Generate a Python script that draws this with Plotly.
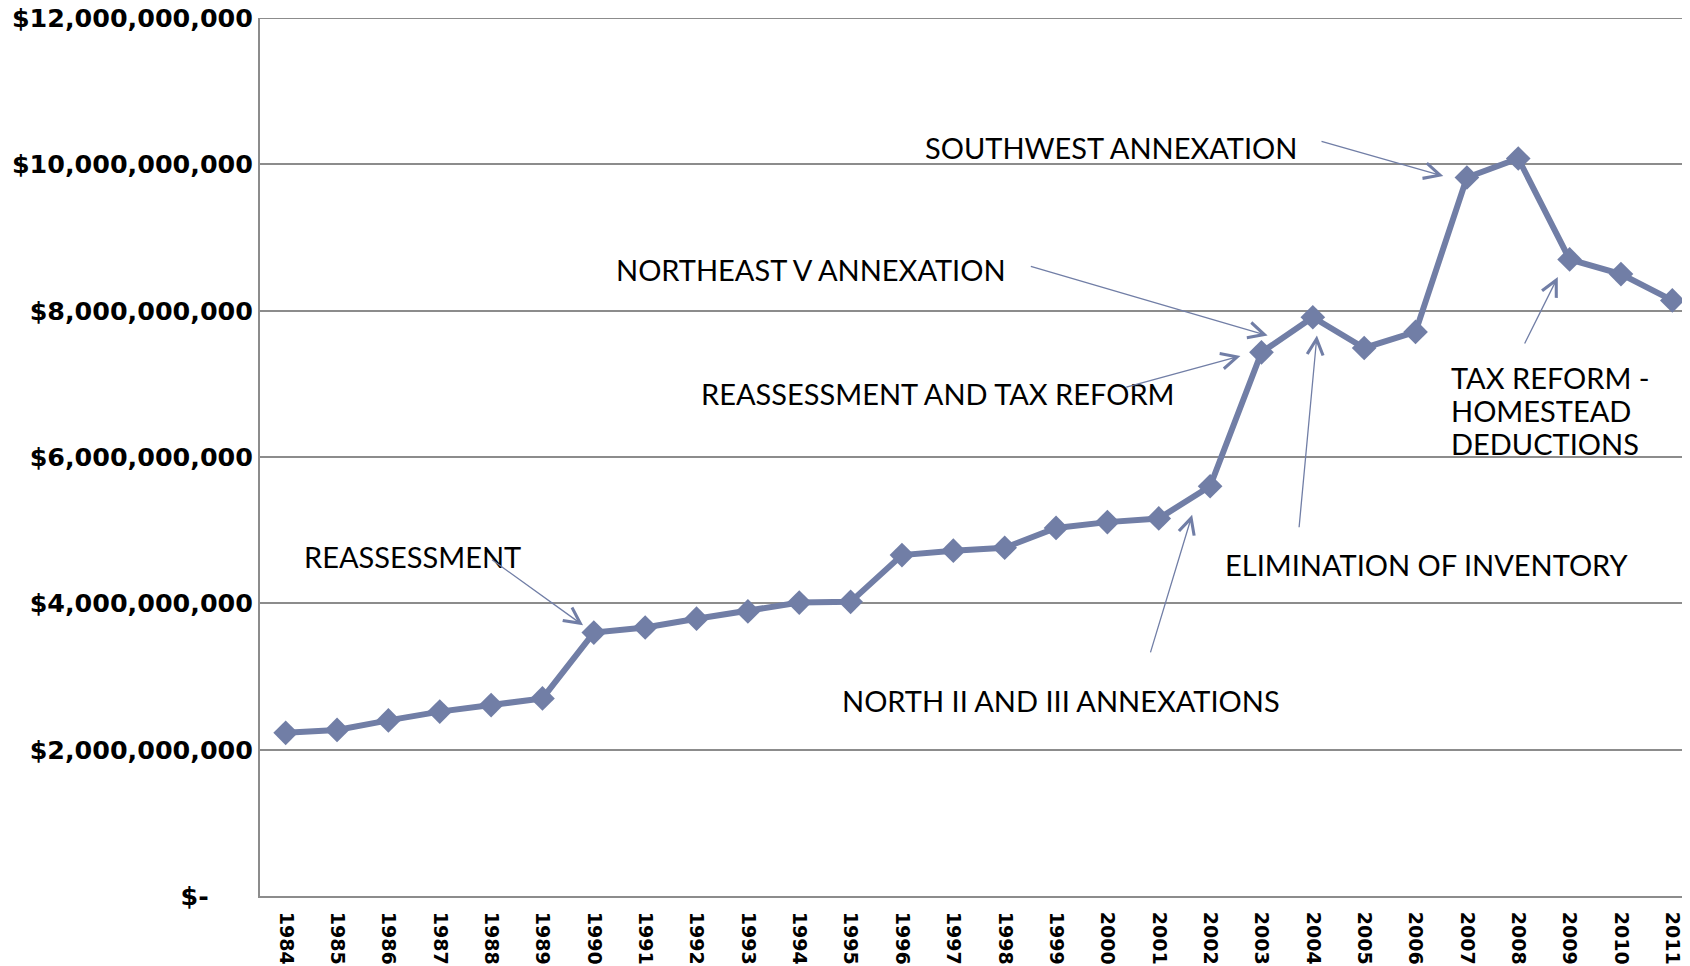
import plotly.graph_objects as go

# assessed value by year
years = list(range(1984, 2012))
values = [2.23e9, 2.27e9, 2.40e9, 2.52e9, 2.61e9, 2.70e9, 3.60e9, 3.67e9,
          3.79e9, 3.89e9, 4.01e9, 4.02e9, 4.66e9, 4.72e9, 4.76e9, 5.03e9,
          5.11e9, 5.16e9, 5.60e9, 7.43e9, 7.91e9, 7.49e9, 7.71e9, 9.82e9,
          10.08e9, 8.70e9, 8.50e9, 8.14e9]

y_max = 12e9
y_ticks = [0, 2e9, 4e9, 6e9, 8e9, 10e9, 12e9]
y_tick_text = ["$-" + "\u00a0" * 5, "$2,000,000,000", "$4,000,000,000",
               "$6,000,000,000", "$8,000,000,000", "$10,000,000,000",
               "$12,000,000,000"]

# label lines, text x and line y's (paper), arrow tail and tip (data)
notes = [
    (["REASSESSMENT"], 0.029, [0.387], (1987.99, 4.61e9), (1989.79, 3.70e9)),
    (["NORTHEAST V ANNEXATION"], 0.246, [0.714], (1998.48, 8.61e9), (2003.12, 7.66e9)),
    (["REASSESSMENT AND TAX REFORM"], 0.305, [0.572], (2000.34, 6.95e9), (2002.59, 7.38e9)),
    (["SOUTHWEST ANNEXATION"], 0.461, [0.853], (2004.14, 10.32e9), (2006.54, 9.84e9)),
    (["ELIMINATION OF INVENTORY"], 0.670, [0.377], (2003.73, 5.02e9), (2004.08, 7.66e9)),
    (["NORTH II AND III ANNEXATIONS"], 0.4035, [0.223], (2000.83, 3.31e9), (2001.65, 5.21e9)),
    (["TAX REFORM -", "HOMESTEAD", "DEDUCTIONS"], 0.8266, [0.591, 0.553, 0.515],
     (2008.11, 7.53e9), (2008.77, 8.46e9)),
]

line_color = "#717ea6"
grid_color = "#8c8c8c"

fig = go.Figure(go.Scatter(
    x=years, y=values, mode="lines+markers",
    line=dict(color=line_color, width=6),
    marker=dict(symbol="diamond", size=19, color=line_color),
))

annotations = []
for lines, tx, tys, tail, tip in notes:
    for line, ty in zip(lines, tys):
        annotations.append(dict(
            text=line, xref="paper", yref="paper", x=tx, y=ty,
            xanchor="left", yanchor="middle", align="left", showarrow=False,
            font=dict(family="Lato", size=29, color="black"),
        ))
    annotations.append(dict(
        text="", xref="x", yref="y", axref="x", ayref="y",
        x=tip[0], y=tip[1], ax=tail[0], ay=tail[1],
        showarrow=True, arrowhead=5, arrowsize=2.4, arrowwidth=1.3,
        arrowcolor=line_color,
    ))

# top gridline sits on the range edge, which plotly skips
fig.add_shape(type="line", xref="paper", yref="y", x0=0, x1=1, y0=y_max, y1=y_max,
              line=dict(color=grid_color, width=2), layer="below")

fig.update_layout(
    width=1690, height=966,
    margin=dict(l=252, r=0, t=10, b=78),
    paper_bgcolor="white", plot_bgcolor="white",
    showlegend=False,
    annotations=annotations,
    xaxis=dict(
        range=[1983.5, 2011.5], tickvals=years, ticktext=[str(y) for y in years],
        tickangle=90, showgrid=False, showline=True, linecolor=grid_color,
        linewidth=2, ticks="", ticklen=0, zeroline=False, ticklabelstandoff=10,
        automargin=False,
        tickfont=dict(family="DejaVu Sans", size=19, color="black", weight="bold"),
    ),
    yaxis=dict(
        range=[0, y_max], tickvals=y_ticks, ticktext=y_tick_text,
        showgrid=True, gridcolor=grid_color, gridwidth=2,
        showline=True, linecolor=grid_color, linewidth=2, ticks="", ticklen=0,
        zeroline=False, ticklabelstandoff=0, ticklabeloverflow="allow",
        automargin=False,
        tickfont=dict(family="DejaVu Sans", size=25.4, color="black", weight="bold"),
    ),
)

fig.write_html("out.html")
